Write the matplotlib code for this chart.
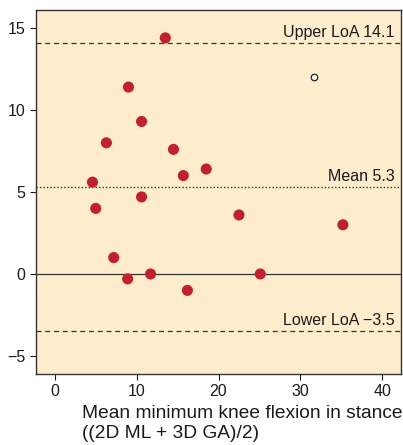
import matplotlib.pyplot as plt

plt.rcParams['font.family'] = ['Liberation Sans', 'DejaVu Sans']

# Bland-Altman data: mean of methods vs difference
mean_vals = [13.5, 9.0, 10.6, 6.3, 14.5, 18.5, 15.7, 4.6, 10.6, 5.0,
             22.5, 35.2, 7.2, 8.9, 11.7, 25.1, 16.2]
diff_vals = [14.4, 11.4, 9.3, 8.0, 7.6, 6.4, 6.0, 5.6, 4.7, 4.0,
             3.6, 3.0, 1.0, -0.3, 0.0, 0.0, -1.0]
outlier_mean = [31.7]
outlier_diff = [12.0]

upper_loa = 14.1
mean_diff = 5.3
lower_loa = -3.5

xticks = [0, 10, 20, 30, 40]
yticks = [-5, 0, 5, 10, 15]

fig = plt.figure(figsize=(4.03, 4.45), dpi=100)
ax = fig.add_axes([36 / 403, 1 - 374 / 445, 365 / 403, 364 / 445])
ax.set_facecolor('#fdedcc')

ax.axhline(0, color='#333333', lw=0.9, zorder=1)
ax.axhline(upper_loa, color='#333333', lw=0.9, ls=(0, (4, 3)), zorder=1)
ax.axhline(lower_loa, color='#333333', lw=0.9, ls=(0, (4, 3)), zorder=1)
ax.axhline(mean_diff, color='#333333', lw=1.0, ls=(0, (1, 1.5)), zorder=1)

ax.scatter(mean_vals, diff_vals, s=64, color='#c1202f', edgecolors='none', zorder=3)
ax.scatter(outlier_mean, outlier_diff, s=22, facecolor='white', edgecolors='#222222',
           linewidths=0.9, zorder=3)

lbl = dict(ha='right', va='bottom', fontsize=11.5, color='#1a1a1a')
ax.text(41.5, upper_loa + 0.2, 'Upper LoA 14.1', **lbl)
ax.text(41.5, mean_diff + 0.2, 'Mean 5.3', **lbl)
ax.text(41.5, lower_loa + 0.2, 'Lower LoA \u22123.5', **lbl)

ax.set_xlim(-2.3, 42.3)
ax.set_ylim(-6.1, 16.1)
ax.set_xticks(xticks)
ax.set_yticks(yticks)
ax.set_yticklabels([str(t).replace('-', '\u2212') for t in yticks])
ax.tick_params(labelsize=11.5, colors='#1a1a1a', length=4, width=0.8)
for s in ax.spines.values():
    s.set_color('#333333')
    s.set_linewidth(1.0)

fig.text(82 / 403, 1 - 405 / 445, 'Mean minimum knee flexion in stance\n((2D ML + 3D GA)/2)',
         ha='left', va='top', fontsize=13.8, color='#1a1a1a', linespacing=1.25)

fig.savefig('out.png', dpi=100)
